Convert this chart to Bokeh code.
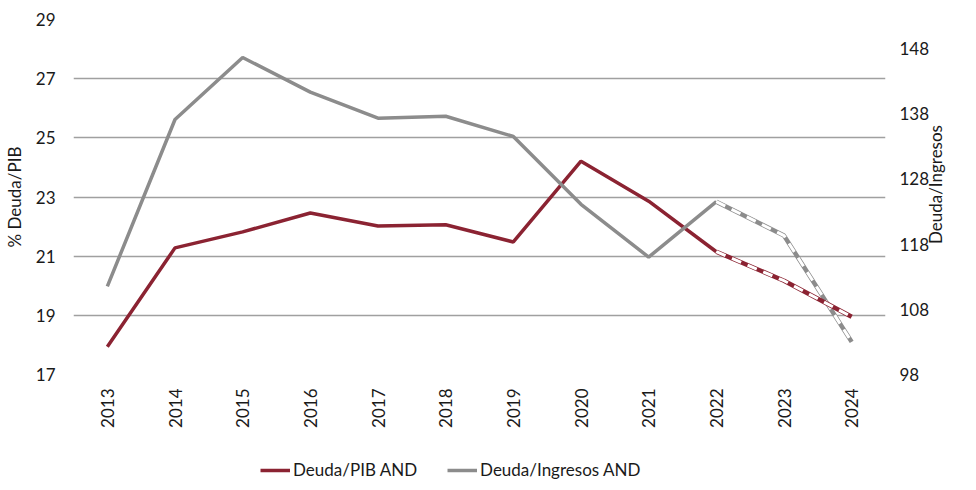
import math
from bokeh.plotting import figure
from bokeh.layouts import column
from bokeh.models import (Range1d, LinearAxis, FixedTicker, Legend, LegendItem)
from bokeh.embed import file_html
from bokeh.resources import INLINE

years = ["2013", "2014", "2015", "2016", "2017", "2018", "2019", "2020", "2021", "2022", "2023", "2024"]
deuda_pib = [17.94, 21.28, 21.82, 22.46, 22.02, 22.06, 21.48, 24.21, 22.86, 21.15, 20.17, 18.95]
deuda_ingresos = [111.5, 137.1, 146.6, 141.3, 137.3, 137.6, 134.5, 124.1, 116.0, 124.5, 119.3, 103.0]
left_ticks = [17, 19, 21, 23, 25, 27, 29]
right_ticks = [98, 108, 118, 128, 138, 148]
right_title = "Deuda/Ingresos"
right_title_at = 118
split = 9  # index of 2022: projections dashed from here

RED = "#8B2332"
GRAY = "#8C8C8C"
FONT = "Lato"
TXT = "#1a1a1a"

p = figure(x_range=years, y_range=Range1d(17, 29), width=968, height=430,
           output_backend="svg", toolbar_location=None,
           min_border_left=67, min_border_right=83, min_border_top=19, min_border_bottom=55)
p.extra_y_ranges = {"right": Range1d(98, 98 + 50 * 356 / 327)}
p.outline_line_color = None
p.background_fill_color = "white"
p.border_fill_color = "white"

p.xgrid.grid_line_color = None
p.ygrid.grid_line_color = "#A0A0A0"
p.ygrid.grid_line_width = 1.3

la = p.yaxis[0]
la.ticker = FixedTicker(ticks=left_ticks)
la.axis_label = "% Deuda/PIB"
la.major_label_standoff = 18
la.axis_label_standoff = 8

ra = LinearAxis(y_range_name="right", ticker=FixedTicker(ticks=right_ticks))
ra.major_label_standoff = 14
p.add_layout(ra, "right")

# right-hand axis title, reading bottom-to-top as in the original
rt = LinearAxis(y_range_name="right", ticker=FixedTicker(ticks=[right_title_at]),
                major_label_overrides={right_title_at: right_title})
rt.major_label_orientation = math.pi / 2
rt.major_label_standoff = 3
p.add_layout(rt, "right")

xa = p.xaxis[0]
xa.major_label_orientation = math.pi / 2
xa.major_label_standoff = 14

for ax in [xa, la, ra, rt]:
    ax.axis_line_color = None
    ax.major_tick_line_color = None
    ax.minor_tick_line_color = None
    ax.major_tick_out = 0
    ax.major_tick_in = 0
    ax.minor_tick_out = 0
    ax.minor_tick_in = 0
    ax.major_label_text_font = FONT
    ax.major_label_text_font_size = "17px"
    ax.major_label_text_color = TXT
    ax.axis_label_text_font = FONT
    ax.axis_label_text_font_size = "17px"
    ax.axis_label_text_font_style = "normal"
    ax.axis_label_text_color = TXT

# solid parts
p.line(years[:split + 1], deuda_pib[:split + 1], line_color=RED, line_width=3.5)
p.line(years[:split + 1], deuda_ingresos[:split + 1], line_color=GRAY, line_width=3.5,
       y_range_name="right")
# projected (dashed) parts
p.line(years[split:], deuda_ingresos[split:], line_color=GRAY, line_width=4.5, y_range_name="right")
p.line(years[split:], deuda_ingresos[split:], line_color="white", line_width=3,
       line_dash="10 7", y_range_name="right")
p.line(years[split:], deuda_pib[split:], line_color=RED, line_width=4.5)
p.line(years[split:], deuda_pib[split:], line_color="white", line_width=3, line_dash="10 7")

# legend strip underneath
q = figure(x_range=p.x_range, y_range=p.y_range, width=968, height=51,
           output_backend="svg", toolbar_location=None,
           x_axis_location=None, y_axis_location=None,
           min_border_left=0, min_border_right=0, min_border_top=0, min_border_bottom=0)
q.outline_line_color = None
q.grid.visible = False
lr = q.line(years, deuda_pib, line_color=RED, line_width=3.5, visible=False)
lg = q.line(years, deuda_ingresos, line_color=GRAY, line_width=3.5, visible=False)

legend = Legend(items=[LegendItem(label="Deuda/PIB AND", renderers=[lr]),
                       LegendItem(label="Deuda/Ingresos AND", renderers=[lg])],
                orientation="horizontal", location=(187, 1))
legend.border_line_color = None
legend.background_fill_alpha = 0
legend.inactive_fill_alpha = 0
legend.padding = 0
legend.margin = 0
legend.spacing = 30
legend.glyph_width = 30
legend.label_standoff = 3
legend.label_text_font = FONT
legend.label_text_font_size = "17px"
legend.label_text_color = TXT
q.add_layout(legend, "center")

open("out.html", "w").write(file_html(column(p, q, spacing=0), INLINE))
